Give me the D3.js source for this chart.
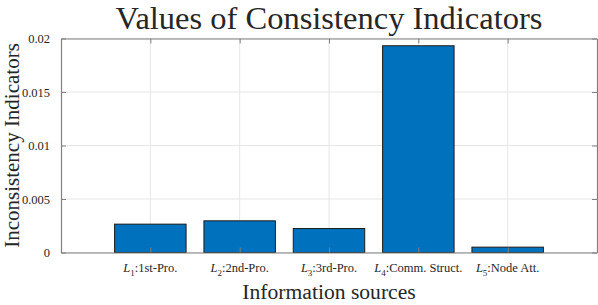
<!DOCTYPE html>
<html>
<head>
<meta charset="utf-8">
<script src="https://cdn.jsdelivr.net/npm/d3@7"></script>
<style>
  body { margin: 0; background: #fff; }
  text { font-family: "Liberation Serif", "DejaVu Serif", serif; fill: #262626; }
</style>
</head>
<body>
<div id="chart"></div>
<script>
// data
const sourceIds = ['1', '2', '3', '4', '5'];
const sourceNames = ['1st-Pro.', '2nd-Pro.', '3rd-Pro.', 'Comm. Struct.', 'Node Att.'];
const indicatorValues = [0.00265, 0.00296, 0.00224, 0.01932, 0.0005];
const yTicks = [0, 0.005, 0.01, 0.015, 0.02];
const yTickLabels = ['0', '0.005', '0.01', '0.015', '0.02'];

const width = 598, height = 305;
const margin = { top: 38.5, right: 1, bottom: 52.5, left: 61 };
const w = width - margin.left - margin.right;
const h = height - margin.top - margin.bottom;

const svg = d3.select('#chart').append('svg')
  .attr('width', width)
  .attr('height', height);

const x = d3.scaleLinear().domain([0, sourceIds.length + 1]).range([0, w]);
const y = d3.scaleLinear().domain([0, 0.02]).range([h, 0]);
const barW = x(0.8) - x(0);

const g = svg.append('g')
  .attr('transform', 'translate(' + margin.left + ',' + margin.top + ')');

// grid
g.selectAll('.vgrid').data(sourceIds).enter().append('line')
  .attr('x1', (d, i) => x(i + 1)).attr('x2', (d, i) => x(i + 1))
  .attr('y1', 0).attr('y2', h)
  .attr('stroke', '#e6e6e6').attr('stroke-width', 1);
g.selectAll('.hgrid').data(yTicks).enter().append('line')
  .attr('x1', 0).attr('x2', w)
  .attr('y1', d => y(d)).attr('y2', d => y(d))
  .attr('stroke', '#e6e6e6').attr('stroke-width', 1);

// bars
g.selectAll('.bar').data(indicatorValues).enter().append('rect')
  .attr('x', (d, i) => x(i + 1) - barW / 2)
  .attr('y', d => y(d))
  .attr('width', barW)
  .attr('height', d => y(0) - y(d))
  .attr('fill', '#0072BD')
  .attr('stroke', '#1a1a1a')
  .attr('stroke-width', 1);

// axes with inward ticks (box on)
const axisColor = '#808080';
const yAxis = g.append('g')
  .call(d3.axisLeft(y).tickValues(yTicks).tickFormat((d, i) => yTickLabels[i])
    .tickSizeInner(-5).tickSizeOuter(0).tickPadding(11));
const xAxis = g.append('g')
  .attr('transform', 'translate(0,' + h + ')')
  .call(d3.axisBottom(x).tickValues(sourceIds.map((d, i) => i + 1)).tickFormat('')
    .tickSizeInner(-5).tickSizeOuter(0));
g.append('g')
  .call(d3.axisTop(x).tickValues(sourceIds.map((d, i) => i + 1)).tickFormat('')
    .tickSizeInner(-5).tickSizeOuter(0));
g.append('g')
  .attr('transform', 'translate(' + w + ',0)')
  .call(d3.axisRight(y).tickValues(yTicks).tickFormat('')
    .tickSizeInner(-5).tickSizeOuter(0));
g.selectAll('.domain, .tick line').attr('stroke', axisColor);
g.selectAll('.domain').attr('stroke-width', 1.2);
yAxis.selectAll('text')
  .style('font-family', '"Liberation Serif", serif')
  .style('font-size', '12.5px')
  .attr('fill', '#262626');

// x tick labels with italic L and subscript
const xl = g.selectAll('.xlab').data(sourceIds).enter().append('text')
  .attr('x', (d, i) => x(i + 1))
  .attr('y', h + 19)
  .attr('text-anchor', 'middle')
  .style('font-size', '12.5px');
xl.append('tspan').style('font-style', 'italic').text('L');
xl.append('tspan').attr('dy', 4).style('font-size', '9px').text(d => d);
xl.append('tspan').attr('dy', -4).text((d, i) => ':' + sourceNames[i]);

// title and axis labels
svg.append('text')
  .attr('x', margin.left + w / 2)
  .attr('y', 29)
  .attr('text-anchor', 'middle')
  .style('font-size', '32.5px')
  .text('Values of Consistency Indicators');

svg.append('text')
  .attr('x', margin.left + w / 2)
  .attr('y', 298.5)
  .attr('text-anchor', 'middle')
  .style('font-size', '21.6px')
  .text('Information sources');

svg.append('text')
  .attr('transform', 'rotate(-90)')
  .attr('x', -(margin.top + h / 2))
  .attr('y', 18.5)
  .attr('text-anchor', 'middle')
  .style('font-size', '21px')
  .text('Inconsistency Indicators');
</script>
</body>
</html>
